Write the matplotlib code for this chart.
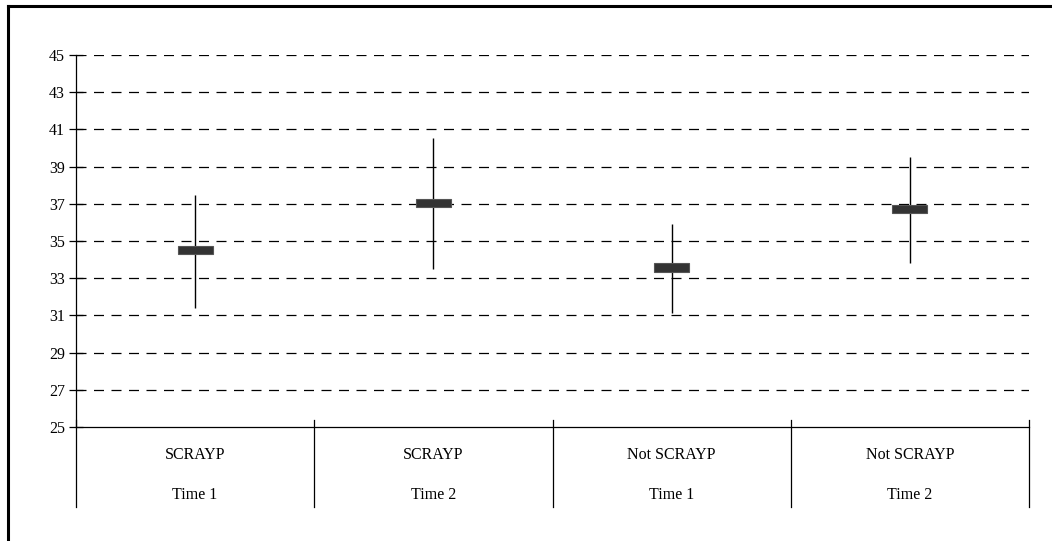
import numpy as np
import matplotlib.pyplot as plt
from matplotlib.lines import Line2D

plt.rcParams['font.family'] = ['Liberation Serif', 'DejaVu Serif']

# data
groups = ['SCRAYP', 'SCRAYP', 'Not SCRAYP', 'Not SCRAYP']
times = ['Time 1', 'Time 2', 'Time 1', 'Time 2']
high = [37.5, 40.55, 35.9, 39.5]
low = [31.4, 33.5, 31.15, 33.8]
box_top = [34.75, 37.25, 33.8, 36.95]
box_bot = [34.3, 36.85, 33.35, 36.5]
yticks = np.arange(25, 46, 2)

W, H = 1052, 541
fig = plt.figure(figsize=(W / 100, H / 100), dpi=100)
ax = fig.add_axes([76 / W, 1 - 427 / H, (1029 - 76) / W, (427 - 55) / H])

x = np.arange(len(groups)) + 0.5

# grid
for yv in yticks[1:]:
    ax.axhline(yv, color='black', lw=0.9, ls=(0, (8, 6)), zorder=1)

# whiskers and boxes
ax.vlines(x, low, high, color='black', lw=1.0, zorder=2)
ax.bar(x, np.array(box_top) - np.array(box_bot), bottom=box_bot, width=35 / 238,
       color='#333333', edgecolor='#555555', lw=0.8, zorder=3)

ax.set_xlim(0, 4)
ax.set_ylim(25, 45)
ax.set_yticks(yticks)
ax.set_xticks([])
ax.tick_params(axis='y', direction='inout', length=10, width=0.9, labelsize=11.5, pad=3)
for s in ['top', 'right']:
    ax.spines[s].set_visible(False)
ax.spines['left'].set_linewidth(0.9)
ax.spines['bottom'].set_linewidth(0.9)

# category separators below the axis
hpx = 427 - 55
for xs in range(5):
    ax.plot([xs, xs], [7 / hpx, -80 / hpx], color='black', lw=0.9,
            transform=ax.get_xaxis_transform(), clip_on=False)

for xi, g, t in zip(x, groups, times):
    ax.text(xi, -28 / hpx, g, ha='center', va='center', fontsize=11.5,
            transform=ax.get_xaxis_transform())
    ax.text(xi, -68 / hpx, t, ha='center', va='center', fontsize=11.5,
            transform=ax.get_xaxis_transform())

# outer frame (left and top edges visible)
fig.add_artist(Line2D([8 / W, 8 / W], [0, 1 - 6 / H], color='black', lw=2.2,
                      transform=fig.transFigure))
fig.add_artist(Line2D([8 / W, 1], [1 - 6 / H, 1 - 6 / H], color='black', lw=2.2,
                      transform=fig.transFigure))

fig.savefig('out.png', dpi=100)
